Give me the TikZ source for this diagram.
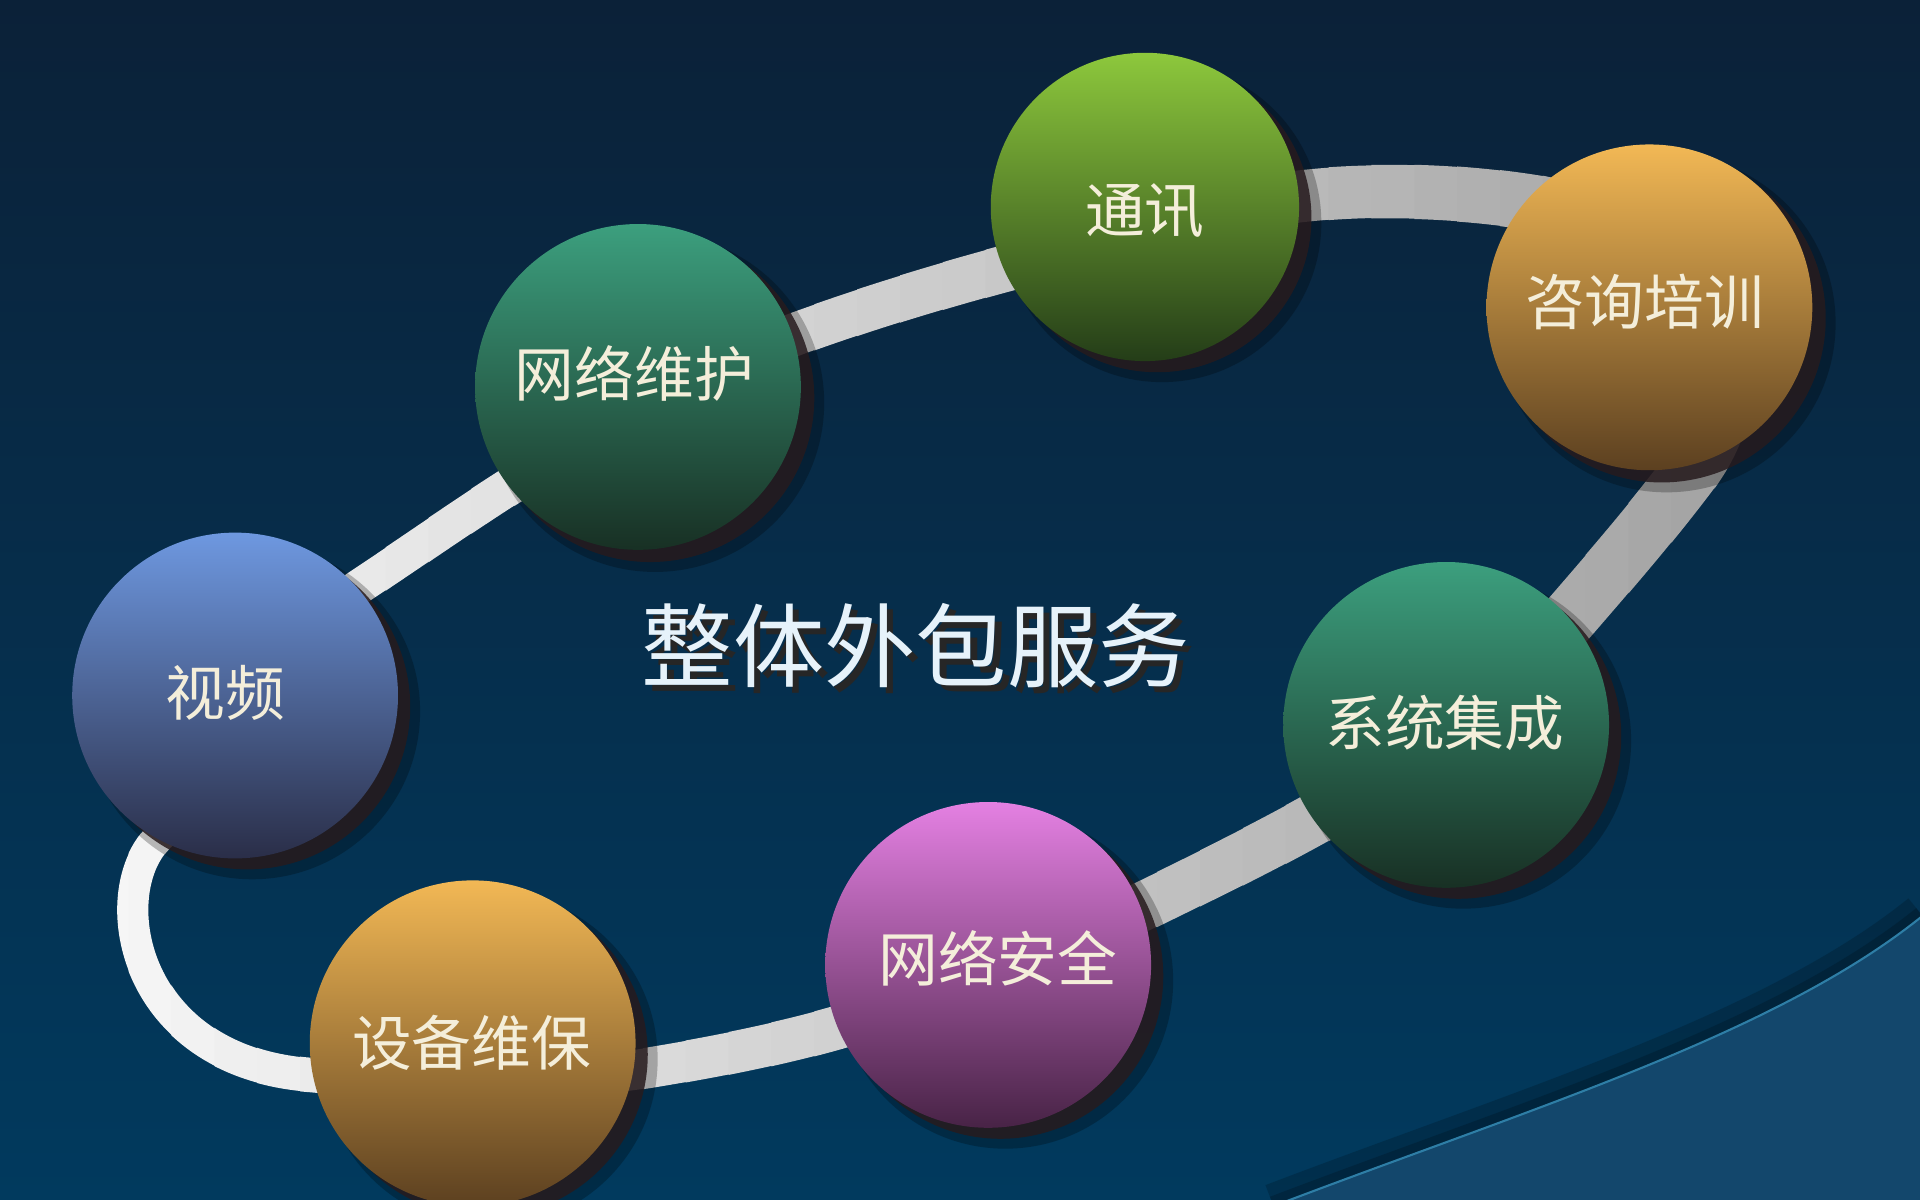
\documentclass[tikz,border=0pt]{standalone}
\usepackage{fontspec}
\newfontfamily\cjk{Noto Sans CJK SC}
\usetikzlibrary{calc}
\definecolor{bgtop}{HTML}{0B2138}
\definecolor{bgmid}{HTML}{043558}
\definecolor{bgbot}{HTML}{013A5E}
\definecolor{wave}{HTML}{13476C}
\definecolor{waveedge}{HTML}{2E7EA6}
\definecolor{ringlight}{HTML}{F7F7F7}
\definecolor{ringdark}{HTML}{A2A2A2}
\definecolor{shadowc}{HTML}{271B1E}
\definecolor{labelc}{HTML}{F4EEDA}
\definecolor{titlec}{HTML}{E6F2FA}
\definecolor{blueT}{HTML}{6E98E0}\definecolor{blueM}{HTML}{5675B8}\definecolor{blueB}{HTML}{2A2E48}
\definecolor{tealT}{HTML}{3C9F7E}\definecolor{tealM}{HTML}{2A7659}\definecolor{tealB}{HTML}{183024}
\definecolor{greenT}{HTML}{8DC83C}\definecolor{greenM}{HTML}{5E982A}\definecolor{greenB}{HTML}{243D18}
\definecolor{orT}{HTML}{F2B855}\definecolor{orM}{HTML}{C99140}\definecolor{orB}{HTML}{5C4020}
\definecolor{magT}{HTML}{E480E2}\definecolor{magM}{HTML}{B052A8}\definecolor{magB}{HTML}{482346}
\begin{document}
\begin{tikzpicture}[x=0.0245cm,y=-0.0245cm,
  ball/.style={circle, minimum size=6.52cm, inner sep=0pt},
  smallball/.style={ball, minimum size=6.17cm},
  ballshadow/.style={fill=shadowc, opacity=0.85},
  ballhalo/.style={fill=black, opacity=0.25},
  label/.style={text=labelc, font=\cjk\fontsize{34pt}{40pt}\selectfont},
]
\useasboundingbox (0,0) rectangle (1568,980);
% background
\shade[top color=bgtop, middle color=bgmid, bottom color=bgbot] (0,0) rectangle (1568,980);
% bottom-right wave
\def\wavecurve{(1040,985) .. controls (1250,905) and (1450,845) .. (1570,748)}
\draw[line width=0.9cm, color=black, opacity=0.18] \wavecurve;
\draw[line width=0.4cm, color=black, opacity=0.18] \wavecurve;
\fill[wave] \wavecurve -- (1570,985) -- cycle;
\draw[waveedge, line width=1.2pt] \wavecurve;

% ring centre line (closed loop through the balls)
\coordinate (a0) at (292,480);
\coordinate (a1) at (418,396);
\coordinate (b0) at (652,272);
\coordinate (b1) at (822,219);
\coordinate (c0) at (1065,160);
\coordinate (c1) at (1255,166);
\coordinate (d0) at (1378,388);
\coordinate (d1) at (1288,497);
\coordinate (e0) at (1075,668);
\coordinate (e1) at (940,737);
\coordinate (f0) at (688,838);
\coordinate (f1) at (530,872);
\coordinate (g0) at (255,878);
\coordinate (g1) at (124,690);
\def\ringpath{(a0) .. controls (330,455) and (380,420) .. (a1)
  .. controls (470,362) and (590,295) .. (b0)
  .. controls (710,251) and (770,233) .. (b1)
  .. controls (900,198) and (990,168) .. (c0)
  .. controls (1130,153) and (1200,157) .. (c1)
  .. controls (1400,195) and (1445,300) .. (d0)
  .. controls (1350,425) and (1320,460) .. (d1)
  .. controls (1230,565) and (1150,625) .. (e0)
  .. controls (1030,693) and (985,715) .. (e1)
  .. controls (860,775) and (770,815) .. (f0)
  .. controls (640,852) and (585,863) .. (f1)
  .. controls (450,885) and (330,885) .. (g0)
  .. controls (112,868) and (86,740) .. (g1)
  .. controls (170,640) and (245,515) .. (a0) -- cycle}
\foreach \i in {0,...,39}{
  \pgfmathsetmacro\xa{70+\i*35}
  \pgfmathsetmacro\xb{\xa+36}
  \pgfmathsetmacro\tt{(\xa+17-80)/1360}
  \pgfmathtruncatemacro\pct{100*(1-\tt)}
  \pgfmathsetmacro\ww{(25+24*\tt)*0.0245}
  \begin{scope}
    \clip (\xa,-10) rectangle (\xb,1000);
    \draw[line width=\ww cm, color=ringlight!\pct!ringdark, line join=round] \ringpath;
  \end{scope}
}

% shadows of the balls
\foreach \cx/\cy/\rr in {192/568/133, 521/316/134, 935/169/126, 1347/251/134, 1181/592/133, 807/788/133, 386/852/133}{
  \fill[ballhalo] (\cx+14,\cy+13) circle[radius=\rr*0.0245cm+0.1cm];
  \fill[ballshadow] (\cx+10,\cy+9) circle[radius=\rr*0.0245cm];
}

% balls
\node[ball, top color=blueT, middle color=blueM, bottom color=blueB] (video) at (192,568) {};
\node[ball, top color=tealT, middle color=tealM, bottom color=tealB] (netmaint) at (521,316) {};
\node[smallball, top color=greenT, middle color=greenM, bottom color=greenB] (comm) at (935,169) {};
\node[ball, top color=orT, middle color=orM, bottom color=orB] (consult) at (1347,251) {};
\node[ball, top color=tealT, middle color=tealM, bottom color=tealB] (sysint) at (1181,592) {};
\node[ball, top color=magT, middle color=magM, bottom color=magB] (netsec) at (807,788) {};
\node[ball, top color=orT, middle color=orM, bottom color=orB] (equip) at (386,852) {};

% labels
\node[label] (tvideo) at (184,566) {视频};
\node[label] (tnetmaint) at (518,305) {网络维护};
\node[label] (tcomm) at (935,172) {通讯};
\node[label] (tconsult) at (1343,247) {咨询培训};
\node[label] (tsysint) at (1180,590) {系统集成};
\node[label] (tnetsec) at (815,783) {网络安全};
\node[label] (tequip) at (385,852) {设备维保};

% title with drop shadow
\node[font=\cjk\fontsize{52pt}{60pt}\selectfont, text=titlec] (title) at (748,530)
  {\makebox[0pt][l]{\hspace{3.5pt}\raisebox{-3.5pt}{\textcolor{black!85}{整体外包服务}}}整体外包服务};
\end{tikzpicture}
\end{document}
